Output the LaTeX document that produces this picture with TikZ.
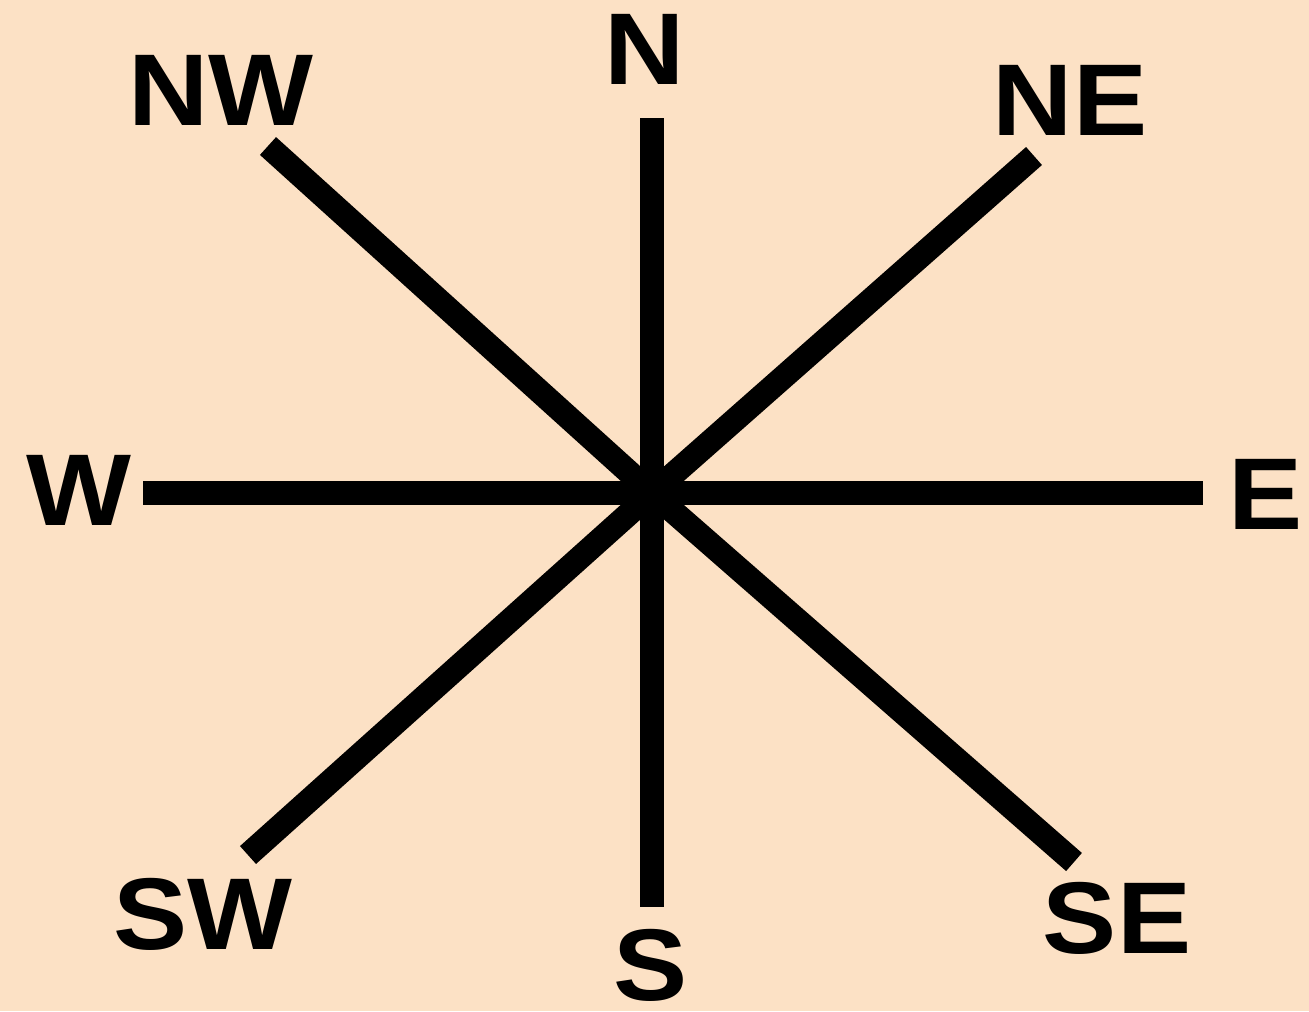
\documentclass[tikz,border=0pt]{standalone}
\usepackage{fontspec}
\setmainfont{Liberation Sans}
\definecolor{peach}{RGB}{252,225,197}
% letters in the reference are a little wider than the font
\newcommand{\widetext}[1]{\scalebox{1.09}[1]{#1}}

\begin{document}
\begin{tikzpicture}[x=0.01cm, y=-0.01cm,
    ray/.style={line width=0.24cm},
    dirlabel/.style={font=\fontsize{29}{29}\selectfont\bfseries, inner sep=0pt}]
    \fill[peach] (0,0) rectangle (1309,1011);
    \useasboundingbox (0,0) rectangle (1309,1011);

    % labels
    \node[dirlabel] (N)  at (645,49)   {\widetext{N}};
    \node[dirlabel] (NE) at (1070,100) {\widetext{NE}};
    \node[dirlabel] (E)  at (1266,494) {\widetext{E}};
    \node[dirlabel] (SE) at (1117,918) {\widetext{SE}};
    \node[dirlabel] (S)  at (651,965)  {\widetext{S}};
    \node[dirlabel] (SW) at (203,914)  {\widetext{SW}};
    \node[dirlabel] (W)  at (79,490)   {\widetext{W}};
    \node[dirlabel] (NW) at (221,90)   {\widetext{NW}};

    % ray ends
    \coordinate (c)   at (652,493);
    \coordinate (n0)  at (652,118);
    \coordinate (ne0) at (1034,156);
    \coordinate (e0)  at (1203,493);
    \coordinate (se0) at (1074,862);
    \coordinate (s0)  at (652,907);
    \coordinate (sw0) at (248,855);
    \coordinate (w0)  at (143,493);
    \coordinate (nw0) at (268,146);

    \foreach \d in {n0,ne0,e0,se0,s0,sw0,w0,nw0}
        \draw[ray] (c) -- (\d);
\end{tikzpicture}
\end{document}
